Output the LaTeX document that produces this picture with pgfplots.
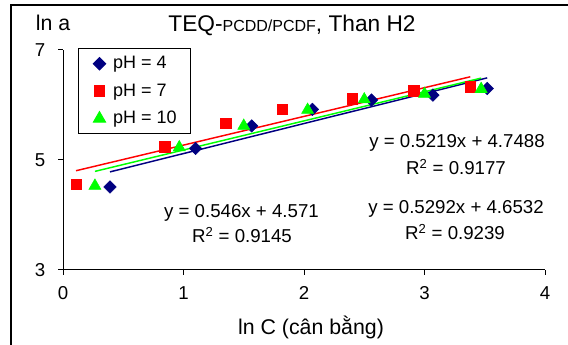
\documentclass[border=0pt]{standalone}
\usepackage{pgfplots}
\pgfplotsset{compat=1.18}
\usepackage{fontspec}
\setmainfont{Liberation Sans}
\definecolor{navyb}{RGB}{0,0,128}
\definecolor{lgreen}{RGB}{0,255,0}
\definecolor{lred}{RGB}{255,0,0}
\pgfplotsset{myleg/.style={legend image code/.code={\path[draw=none,fill=none] (0pt,0pt) -- (16pt,0pt); \draw[##1] plot coordinates {(7.75pt,0pt)};}}}
\begin{document}
\begin{tikzpicture}
\useasboundingbox (0,0) rectangle (426pt,258.75pt);
\draw[line width=1.5pt] (8.25pt,-2pt) -- (8.25pt,255pt) -- (428pt,255pt);
\begin{axis}[
  at={(47.25pt,56.25pt)}, anchor=south west,
  width=361.5pt, height=165pt, scale only axis,
  xmin=0, xmax=4, ymin=3, ymax=7,
  xtick={0,1,2,3,4}, ytick={3,5,7},
  axis x line*=bottom, axis y line*=left,
  axis line style={line width=0.75pt, -},
  tick align=outside, major tick length=3.75pt,
  tick style={black, line width=0.75pt},
  tick label style={font=\fontsize{14}{16}\selectfont},
  yticklabel style={xshift=-6pt},
  xticklabel style={yshift=-5pt},
  /pgf/number format/assume math mode=true,
  clip=false,
  legend style={at={(0.0311,1.009)}, anchor=north west, draw=black, line width=0.75pt,
    font=\fontsize{13.5}{16}\selectfont, row sep=5.75pt, inner xsep=8pt, inner ysep=4pt},
  legend cell align=left,
]
\addplot[only marks, mark=square*, mark size=3.3pt, mark options={rotate=45, fill=navyb, draw=navyb}, color=navyb, myleg]
  coordinates {(0.39,4.51) (1.10,5.21) (1.566,5.62) (2.07,5.92) (2.56,6.09) (3.07,6.18) (3.52,6.30)};
\addlegendentry{pH = 4}
\addplot[only marks, mark=square*, mark size=3.9pt, mark options={fill=lred, draw=lred}, color=lred, myleg]
  coordinates {(0.108,4.56) (0.846,5.24) (1.35,5.67) (1.82,5.92) (2.40,6.11) (2.91,6.26) (3.38,6.33)};
\addlegendentry{pH = 7}
\addplot[only marks, mark=triangle*, mark size=5.2pt, mark options={fill=lgreen, draw=lgreen}, color=lgreen, myleg]
  coordinates {(0.265,4.53) (0.965,5.23) (1.50,5.62) (2.03,5.91) (2.50,6.10) (3.00,6.20) (3.47,6.29)};
\addlegendentry{pH = 10}
\addplot[forget plot, navyb, line width=1.1pt] coordinates {(0.39,4.784) (3.52,6.493)};
\addplot[forget plot, lred, line width=1.1pt] coordinates {(0.108,4.805) (3.38,6.513)};
\addplot[forget plot, lgreen, line width=1.1pt] coordinates {(0.265,4.793) (3.47,6.489)};
\end{axis}
\node[anchor=base, font=\fontsize{17}{20}\selectfont] at (219pt,234.75pt) {TEQ-{\fontsize{12}{14}\selectfont PCDD/PCDF}, Than H2};
\node[anchor=base, font=\fontsize{16}{19}\selectfont] at (39.75pt,235.5pt) {ln a};
\node[anchor=base, font=\fontsize{16}{19}\selectfont] at (233.25pt,7.5pt) {ln C (cân bằng)};
\begin{scope}[every node/.style={anchor=base, font=\fontsize{14}{17}\selectfont}]
\node at (181.1pt,95.25pt) {y = 0.546x + 4.571};
\node at (181.5pt,76.5pt) {R\textsuperscript{2} = 0.9145};
\node at (342.75pt,147.75pt) {y = 0.5219x + 4.7488};
\node at (342pt,127.5pt) {R\textsuperscript{2} = 0.9177};
\node at (342pt,98.25pt) {y = 0.5292x + 4.6532};
\node at (341.25pt,78.75pt) {R\textsuperscript{2} = 0.9239};
\end{scope}
\end{tikzpicture}
\end{document}
